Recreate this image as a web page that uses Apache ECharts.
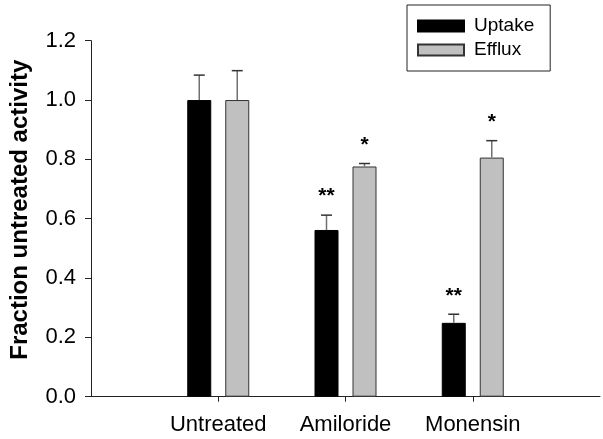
<!DOCTYPE html>
<html>
<head>
<meta charset="utf-8">
<script src="https://cdn.jsdelivr.net/npm/echarts@6/dist/echarts.min.js"></script>
<style>
html,body{margin:0;padding:0;background:#fff;}
#chart{width:603px;height:439px;}
</style>
</head>
<body>
<div id="chart"></div>
<script>
const categories = ['Untreated', 'Amiloride', 'Monensin'];
const uptake = [1.0, 0.562, 0.249];
const uptakeErr = [0.084, 0.050, 0.029];
const efflux = [1.0, 0.776, 0.806];
const effluxErr = [0.099, 0.010, 0.057];
const uptakeStars = ['', '**', '**'];
const effluxStars = ['', '*', '*'];
const yTicks = [0, 0.2, 0.4, 0.6, 0.8, 1.0, 1.2];

const FONT = 'Liberation Sans, Arial, sans-serif';
const BAR_W = 24, BAR_GAP = 14;
const OFF = (BAR_W + BAR_GAP) / 2;

const axisCats = [''].concat(categories, ['']);
const pad = arr => [null].concat(arr, [null]);

function errSeries(vals, errs, stars, sign) {
  const data = vals.map((v, i) => [i + 1, v, errs[i], stars[i]]);
  return {
    type: 'custom',
    silent: true,
    z: 5,
    data: data,
    encode: { x: 0, y: 1 },
    renderItem: function (params, api) {
      const i = api.value(0), v = api.value(1), e = api.value(2);
      const s = data[params.dataIndex][3];
      const base = api.coord([i, v]);
      const top = api.coord([i, v + e]);
      const x = base[0] + sign * OFF;
      const children = [
        { type: 'line', shape: { x1: x, y1: base[1], x2: x, y2: top[1] },
          style: { stroke: '#707070', lineWidth: 1.5 } },
        { type: 'line', shape: { x1: x - 5.5, y1: top[1], x2: x + 5.5, y2: top[1] },
          style: { stroke: '#333', lineWidth: 1.5 } }
      ];
      if (s) {
        children.push({ type: 'text', style: { text: s, x: x, y: top[1] - 8,
          align: 'center', verticalAlign: 'bottom',
          font: 'bold 21px ' + FONT, fill: '#000' } });
      }
      return { type: 'group', children: children };
    }
  };
}

const chart = echarts.init(document.getElementById('chart'), null, { renderer: 'canvas' });
chart.setOption({
  animation: false,
  backgroundColor: '#fff',
  grid: { left: 91, right: 3, top: 40.7, bottom: 42.3, containLabel: false },
  legend: {
    orient: 'vertical',
    left: 407, top: 5,
    padding: [11, 16, 11, 10],
    itemGap: 4,
    itemWidth: 46, itemHeight: 11,
    borderColor: '#222', borderWidth: 1,
    icon: 'rect',
    textStyle: { fontFamily: FONT, fontSize: 19, color: '#000', lineHeight: 20, padding: [0, 0, 0, 5] },
    data: ['Uptake', 'Efflux']
  },
  xAxis: {
    type: 'category',
    data: axisCats,
    boundaryGap: false,
    axisLine: { lineStyle: { color: '#222', width: 1 } },
    axisTick: { length: 5, inside: false, interval: (idx) => idx >= 1 && idx <= categories.length, lineStyle: { color: '#222' } },
    axisLabel: { interval: 0, margin: 17, fontFamily: FONT, fontSize: 22, color: '#000' },
    splitLine: { show: false }
  },
  yAxis: {
    type: 'value',
    min: yTicks[0], max: yTicks[yTicks.length - 1], interval: 0.2,
    name: 'Fraction untreated activity',
    nameLocation: 'middle',
    nameGap: 59,
    nameTextStyle: { fontFamily: FONT, fontSize: 24, fontWeight: 'bold', color: '#000', padding: [0, 0, 0, 18] },
    axisLine: { show: true, lineStyle: { color: '#222', width: 1 } },
    axisTick: { show: true, length: 6, lineStyle: { color: '#222' } },
    axisLabel: { margin: 15, fontFamily: FONT, fontSize: 22, color: '#000', formatter: v => v.toFixed(1) },
    splitLine: { show: false }
  },
  series: [
    { name: 'Uptake', type: 'bar', data: pad(uptake), barWidth: BAR_W, barGap: (BAR_GAP / BAR_W * 100) + '%',
      itemStyle: { color: '#000', borderColor: '#000', borderWidth: 1 } },
    { name: 'Efflux', type: 'bar', data: pad(efflux), barWidth: BAR_W,
      itemStyle: { color: '#c0c0c0', borderColor: '#333', borderWidth: 1 } },
    errSeries(uptake, uptakeErr, uptakeStars, -1),
    errSeries(efflux, effluxErr, effluxStars, 1)
  ]
});
</script>
</body>
</html>
